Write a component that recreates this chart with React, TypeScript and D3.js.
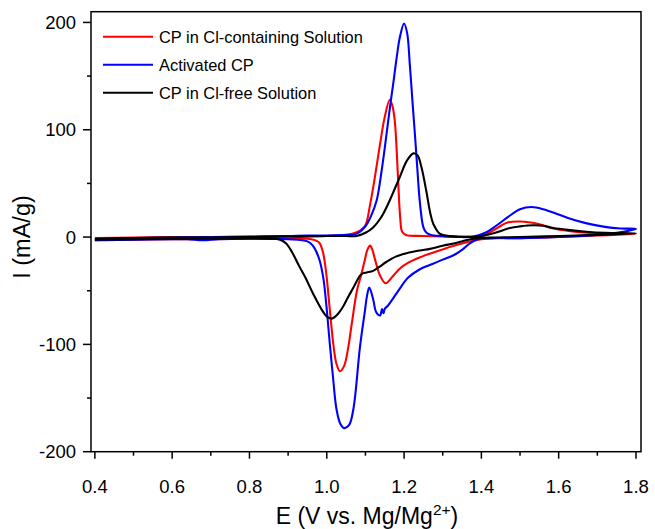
import React from 'react';
import * as d3 from 'd3';

const xTicks = [0.4, 0.6, 0.8, 1.0, 1.2, 1.4, 1.6, 1.8];
const xMinor = [0.5, 0.7, 0.9, 1.1, 1.3, 1.5, 1.7];
const yTicks = [-200, -100, 0, 100, 200];
const yMinor = [-150, -50, 50, 150];

const legendLabels = ['CP in Cl-containing Solution', 'Activated CP', 'CP in Cl-free Solution'];
const seriesColors = ['#ff0000', '#0000ff', '#000000'];

// Red: CP in Cl-containing Solution
const redFwdE = [0.40, 0.50, 0.60, 0.70, 0.80, 0.90, 1.00, 1.05, 1.07, 1.086, 1.10, 1.112, 1.125, 1.138, 1.150, 1.163, 1.170, 1.176, 1.181, 1.185, 1.190, 1.195, 1.205, 1.25, 1.30, 1.35, 1.40, 1.43, 1.466, 1.50, 1.55, 1.586, 1.63, 1.672, 1.72, 1.80];
const redFwdI = [-1, -0.5, 0, 0, 0.3, 0.5, 1, 2, 3.5, 6, 11, 30, 57, 87, 112, 128, 122, 108, 80, 50, 18, 5, 2, 1, 0.5, 0.5, 1, 6, 13.4, 14.5, 12, 8, 5.5, 4, 3.5, 3];
const redRevE = [1.80, 1.70, 1.60, 1.50, 1.44, 1.40, 1.36, 1.32, 1.28, 1.24, 1.21, 1.19, 1.172, 1.152, 1.138, 1.125, 1.118, 1.112, 1.105, 1.098, 1.09, 1.078, 1.065, 1.055, 1.045, 1.034, 1.025, 1.017, 1.008, 0.998, 0.99, 0.98, 0.96, 0.90, 0.80, 0.70, 0.60, 0.50, 0.40];
const redRevI = [3, 1.5, 0, -1, -1, -2, -5, -9, -14, -19, -24, -29, -36, -43, -36, -21, -12, -8, -12, -22, -34, -50, -80, -104, -120, -125, -118, -100, -68, -32, -14, -5, -2, -1.5, -1.5, -2, -2, -2.5, -3];

// Blue: Activated CP
const blueFwdE = [0.40, 0.50, 0.60, 0.70, 0.80, 0.90, 0.95, 1.00, 1.05, 1.077, 1.10, 1.115, 1.129, 1.142, 1.155, 1.165, 1.172, 1.18, 1.189, 1.200, 1.208, 1.215, 1.222, 1.228, 1.235, 1.241, 1.25, 1.258, 1.27, 1.30, 1.35, 1.38, 1.41, 1.44, 1.47, 1.50, 1.53, 1.56, 1.60, 1.63, 1.67, 1.72, 1.76, 1.80];
const blueFwdI = [-2, -1, -0.5, 0, 0.5, 1, 1.5, 1.5, 2, 3, 10, 20, 34, 62, 97, 125, 143, 165, 186, 199, 190, 160, 125, 96, 60, 32, 9, 4, 2, 1, 0, 0.5, 4, 11, 19, 26, 28, 26, 21, 17, 13, 9.5, 8, 7.5];
const blueRevE = [1.80, 1.75, 1.70, 1.60, 1.50, 1.42, 1.39, 1.37, 1.35, 1.328, 1.30, 1.267, 1.241, 1.21, 1.189, 1.17, 1.158, 1.15, 1.147, 1.143, 1.138, 1.128, 1.12, 1.11, 1.104, 1.099, 1.086, 1.069, 1.058, 1.045, 1.035, 1.025, 1.016, 1.008, 0.998, 0.991, 0.98, 0.964, 0.95, 0.90, 0.80, 0.72, 0.68, 0.64, 0.60, 0.50, 0.40];
const blueRevI = [7.5, 4, 2, 0, -1, -1, -2, -6, -12, -17, -21, -26, -30, -38, -48, -58, -64, -67, -71, -67, -73, -70, -58, -47, -55, -68, -102, -160, -175, -178, -174, -160, -130, -100, -60, -38, -20, -8, -4, -2, -1.5, -2, -3, -2, -2, -2.5, -3];

// Black: CP in Cl-free Solution
const blackFwdE = [0.40, 0.50, 0.60, 0.70, 0.80, 0.90, 1.00, 1.05, 1.077, 1.10, 1.12, 1.14, 1.155, 1.17, 1.189, 1.207, 1.224, 1.235, 1.245, 1.258, 1.268, 1.276, 1.293, 1.32, 1.36, 1.40, 1.44, 1.474, 1.50, 1.534, 1.56, 1.586, 1.63, 1.672, 1.72, 1.80];
const blackFwdI = [-1.5, -1, -0.5, -0.5, 0, 0.5, 1, 1, 1, 4, 9, 18, 28, 40, 56, 71, 78, 76, 65, 42, 22, 12, 3, 1, 0, 1, 4.5, 8.5, 10, 11, 10.5, 8.5, 6.5, 5, 4, 3.5];
const blackRevE = [1.80, 1.70, 1.60, 1.50, 1.42, 1.39, 1.36, 1.328, 1.30, 1.267, 1.241, 1.207, 1.18, 1.155, 1.135, 1.12, 1.103, 1.092, 1.086, 1.069, 1.055, 1.042, 1.028, 1.013, 1.00, 0.991, 0.965, 0.945, 0.93, 0.91, 0.895, 0.879, 0.85, 0.80, 0.70, 0.60, 0.50, 0.40];
const blackRevI = [3.5, 2, 1, 0, -0.5, -1, -3, -6, -8, -11, -12.5, -15, -18, -23, -28, -31.5, -33, -34, -36, -47, -56, -65, -72, -76, -74, -70, -53, -38, -28, -14, -6, -2.5, -1.5, -1, -1.5, -1.5, -2, -2.5];

const series = [
  { fwdE: redFwdE, fwdI: redFwdI, revE: redRevE, revI: redRevI },
  { fwdE: blueFwdE, fwdI: blueFwdI, revE: blueRevE, revI: blueRevI },
  { fwdE: blackFwdE, fwdI: blackFwdI, revE: blackRevE, revI: blackRevI },
];

const W = 655;
const H = 529;
const left = 91, right = 641, top = 11.7, bottom = 451.7;
const FONT = '"Liberation Sans", Arial, Helvetica, sans-serif';

export default function App() {
  const x = d3.scaleLinear().domain([0.39, 1.813]).range([left, right]);
  const y = d3.scaleLinear().domain([-200, 210]).range([bottom, top]);

  const line = d3
    .line<[number, number]>()
    .x((d) => x(d[0]))
    .y((d) => y(d[1]))
    .curve(d3.curveCatmullRom.alpha(0.5));

  const paths = series.map((s) => {
    const pts: [number, number][] = [];
    s.fwdE.forEach((e, i) => pts.push([e, s.fwdI[i]]));
    s.revE.forEach((e, i) => {
      if (i === 0) return;
      pts.push([e, s.revI[i]]);
    });
    return line(pts) || '';
  });

  return (
    <svg width={W} height={H} style={{ position: 'absolute', left: 0, top: 0, background: '#fff' }} fontFamily={FONT}>
      <rect x={0} y={0} width={W} height={H} fill="#fff" />
      <defs>
        <clipPath id="plotclip">
          <rect x={left} y={top} width={right - left} height={bottom - top} />
        </clipPath>
      </defs>
      <g clipPath="url(#plotclip)">
        {paths.map((d, i) => (
          <path key={i} d={d} fill="none" stroke={seriesColors[i]} strokeWidth={2.1} strokeLinejoin="round" />
        ))}
      </g>
      {/* frame */}
      <rect x={left} y={top} width={right - left} height={bottom - top} fill="none" stroke="#000" strokeWidth={1.5} />
      {/* x ticks */}
      {xTicks.map((t) => (
        <g key={'xt' + t}>
          <line x1={x(t)} x2={x(t)} y1={bottom} y2={bottom + 7} stroke="#000" strokeWidth={1.5} />
          <text x={x(t)} y={bottom + 41.5} textAnchor="middle" fontSize={18.5} fill="#000">
            {t.toFixed(1)}
          </text>
        </g>
      ))}
      {xMinor.map((t) => (
        <line key={'xm' + t} x1={x(t)} x2={x(t)} y1={bottom} y2={bottom + 4} stroke="#000" strokeWidth={1.5} />
      ))}
      {/* y ticks */}
      {yTicks.map((t) => (
        <g key={'yt' + t}>
          <line x1={left - 8} x2={left} y1={y(t)} y2={y(t)} stroke="#000" strokeWidth={1.5} />
          <text x={left - 15} y={y(t) + 6.6} textAnchor="end" fontSize={18.5} fill="#000">
            {t}
          </text>
        </g>
      ))}
      {yMinor.map((t) => (
        <line key={'ym' + t} x1={left - 4} x2={left} y1={y(t)} y2={y(t)} stroke="#000" strokeWidth={1.5} />
      ))}
      {/* axis titles */}
      <text x={367} y={524} textAnchor="middle" fontSize={23} fill="#000">
        E (V vs. Mg/Mg
        <tspan fontSize={15.5} dy={-9.5}>2+</tspan>
        <tspan dy={9.5}>)</tspan>
      </text>
      <text transform={`translate(30, 237) rotate(-90)`} textAnchor="middle" fontSize={23.5} fill="#000">
        I (mA/g)
      </text>
      {/* legend */}
      {legendLabels.map((lab, i) => {
        const ly = 36.7 + i * 28;
        return (
          <g key={'lg' + i}>
            <line x1={103} x2={153} y1={ly} y2={ly} stroke={seriesColors[i]} strokeWidth={2} />
            <text x={159} y={ly + 5.9} fontSize={16.4} fill="#000">
              {lab}
            </text>
          </g>
        );
      })}
    </svg>
  );
}
